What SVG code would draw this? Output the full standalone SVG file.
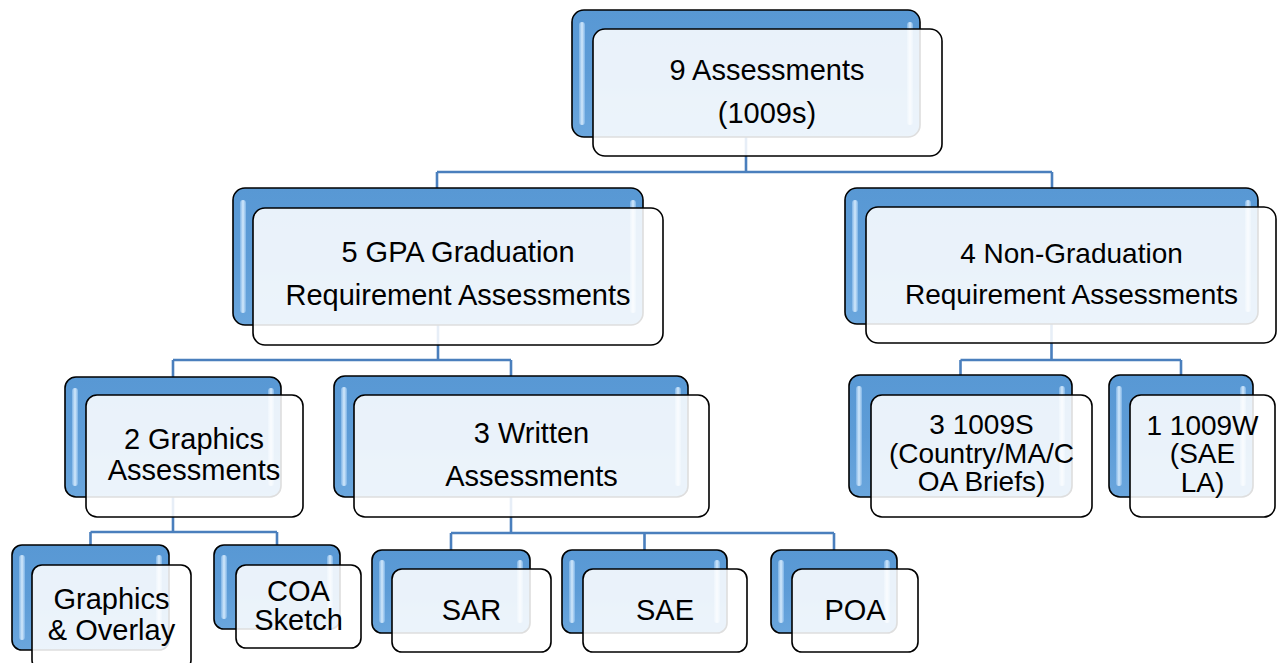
<svg xmlns="http://www.w3.org/2000/svg" width="1277" height="663" viewBox="0 0 1277 663">
<defs>
<style>
.back{fill:url(#blue);stroke:#000;stroke-width:1.6}
.hl{fill:url(#hlg)}
.front{fill:#fff;fill-opacity:0.87;stroke:#000;stroke-width:1.6}
.conn{fill:none;stroke:#4a7fbd;stroke-width:2.6}
.t{font-family:"Liberation Sans",Arial,sans-serif;font-size:29px;fill:#000;text-anchor:middle}
.s28{font-size:28px}
</style>
<linearGradient id="blue" x1="0" y1="0" x2="0" y2="1">
<stop offset="0" stop-color="#5898d4"/>
<stop offset="0.5" stop-color="#5d9cd7"/>
<stop offset="1" stop-color="#6aa6dd"/>
</linearGradient>
<linearGradient id="hlg" x1="0" y1="0" x2="1" y2="0">
<stop offset="0" stop-color="#7fb4e6"/>
<stop offset="0.5" stop-color="#d2e8fb"/>
<stop offset="1" stop-color="#7fb4e6"/>
</linearGradient>
</defs>
<rect width="1277" height="663" fill="#fff"/>
<g id="connectors">
<path class="conn" d="M746,137 V172 M437,172 H1052 M437,172 V188 M1052,172 V188"/>
<path class="conn" d="M438,325 V360 M173,360 H511 M173,360 V377 M511,360 V376"/>
<path class="conn" d="M1051.5,324 V360 M960.5,360 H1181 M960.5,360 V375 M1181,360 V375"/>
<path class="conn" d="M173,497 V532 M90.5,532 H277 M90.5,532 V545 M277,532 V545"/>
<path class="conn" d="M511,497 V533 M451,533 H834 M451,533 V550 M644.5,533 V550 M834,533 V550"/>
</g>
<g id="n-root">
<rect class="back" x="572" y="10" width="348" height="127" rx="12"/>
<rect class="hl" x="579" y="22" width="6" height="103" rx="3"/>
<rect class="hl" x="907" y="22" width="6" height="103" rx="3"/>
<rect class="front" x="593" y="29" width="349" height="127" rx="12"/>
<text class="t" x="767" y="80">9 Assessments</text>
<text class="t" x="767" y="123">(1009s)</text>
</g>
<g id="n-gpa">
<rect class="back" x="233" y="188" width="410" height="137" rx="12"/>
<rect class="hl" x="240" y="200" width="6" height="113" rx="3"/>
<rect class="hl" x="630" y="200" width="6" height="113" rx="3"/>
<rect class="front" x="253" y="208" width="410" height="137" rx="12"/>
<text class="t" x="458" y="262">5 GPA Graduation</text>
<text class="t" x="458" y="305">Requirement Assessments</text>
</g>
<g id="n-nongrad">
<rect class="back" x="845" y="188" width="413" height="136" rx="12"/>
<rect class="hl" x="852" y="200" width="6" height="112" rx="3"/>
<rect class="hl" x="1245" y="200" width="6" height="112" rx="3"/>
<rect class="front" x="866" y="207" width="410" height="136" rx="12"/>
<text class="t s28" x="1071.5" y="263">4 Non-Graduation</text>
<text class="t s28" x="1071.5" y="304">Requirement Assessments</text>
</g>
<g id="n-graphics">
<rect class="back" x="65" y="377" width="216" height="120" rx="11"/>
<rect class="hl" x="72" y="388" width="6" height="98" rx="3"/>
<rect class="hl" x="268" y="388" width="6" height="98" rx="3"/>
<rect class="front" x="86" y="395" width="217" height="122" rx="11"/>
<text class="t" x="194" y="449">2 Graphics</text>
<text class="t" x="194" y="480">Assessments</text>
</g>
<g id="n-written">
<rect class="back" x="334" y="376" width="354" height="121" rx="11"/>
<rect class="hl" x="341" y="387" width="6" height="99" rx="3"/>
<rect class="hl" x="675" y="387" width="6" height="99" rx="3"/>
<rect class="front" x="354" y="395" width="355" height="122" rx="11"/>
<text class="t" x="531.5" y="443">3 Written</text>
<text class="t" x="531.5" y="486">Assessments</text>
</g>
<g id="n-1009s">
<rect class="back" x="849" y="375" width="223" height="122" rx="11"/>
<rect class="hl" x="856" y="386" width="6" height="100" rx="3"/>
<rect class="hl" x="1059" y="386" width="6" height="100" rx="3"/>
<rect class="front" x="871" y="395" width="221" height="122" rx="11"/>
<text class="t s28" x="981.5" y="434">3 1009S</text>
<text class="t s28" x="981.5" y="463">(Country/MA/C</text>
<text class="t s28" x="981.5" y="491">OA Briefs)</text>
</g>
<g id="n-1009w">
<rect class="back" x="1109" y="375" width="144" height="122" rx="11"/>
<rect class="hl" x="1116" y="386" width="6" height="100" rx="3"/>
<rect class="hl" x="1240" y="386" width="6" height="100" rx="3"/>
<rect class="front" x="1130" y="395" width="145" height="122" rx="11"/>
<text class="t s28" x="1202.5" y="435">1 1009W</text>
<text class="t s28" x="1202.5" y="463">(SAE</text>
<text class="t s28" x="1202.5" y="492">LA)</text>
</g>
<g id="n-overlay">
<rect class="back" x="12" y="545" width="157" height="105" rx="10"/>
<rect class="hl" x="19" y="555" width="6" height="85" rx="3"/>
<rect class="hl" x="156" y="555" width="6" height="85" rx="3"/>
<rect class="front" x="32" y="565" width="159" height="105" rx="10"/>
<text class="t" x="111.5" y="609">Graphics</text>
<text class="t" x="111.5" y="640">&amp; Overlay</text>
</g>
<g id="n-coa">
<rect class="back" x="214" y="545" width="126" height="84" rx="10"/>
<rect class="hl" x="221" y="555" width="6" height="64" rx="3"/>
<rect class="hl" x="327" y="555" width="6" height="64" rx="3"/>
<rect class="front" x="236" y="565" width="125" height="83" rx="10"/>
<text class="t" x="298.5" y="601">COA</text>
<text class="t" x="298.5" y="630">Sketch</text>
</g>
<g id="n-sar">
<rect class="back" x="372" y="550" width="158" height="83" rx="10"/>
<rect class="hl" x="379" y="560" width="6" height="63" rx="3"/>
<rect class="hl" x="517" y="560" width="6" height="63" rx="3"/>
<rect class="front" x="392" y="569" width="159" height="83" rx="10"/>
<text class="t" x="471.5" y="620">SAR</text>
</g>
<g id="n-sae">
<rect class="back" x="562" y="550" width="165" height="83" rx="10"/>
<rect class="hl" x="569" y="560" width="6" height="63" rx="3"/>
<rect class="hl" x="714" y="560" width="6" height="63" rx="3"/>
<rect class="front" x="583" y="569" width="164" height="83" rx="10"/>
<text class="t" x="665" y="620">SAE</text>
</g>
<g id="n-poa">
<rect class="back" x="771" y="550" width="126" height="83" rx="10"/>
<rect class="hl" x="778" y="560" width="6" height="63" rx="3"/>
<rect class="hl" x="884" y="560" width="6" height="63" rx="3"/>
<rect class="front" x="792" y="569" width="126" height="83" rx="10"/>
<text class="t" x="855" y="620">POA</text>
</g>
</svg>
